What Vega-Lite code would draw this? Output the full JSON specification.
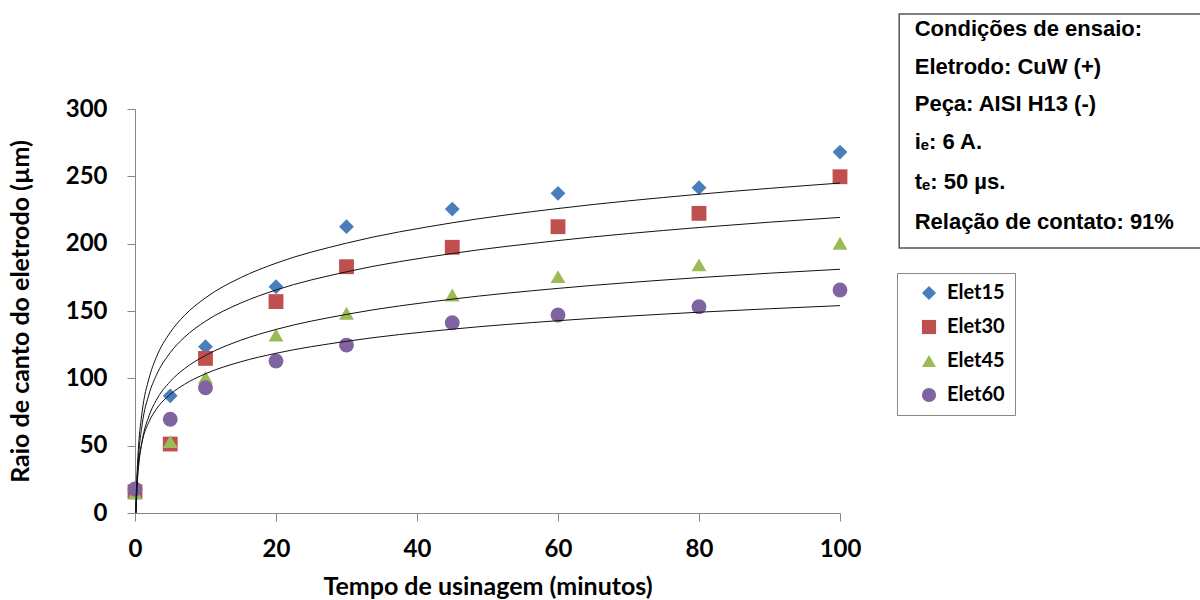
{
  "$schema": "https://vega.github.io/schema/vega-lite/v6.json",
  "width": 705,
  "height": 404,
  "autosize": {"type": "none"},
  "padding": {"left": 135, "top": 109, "right": 360, "bottom": 87},
  "background": "white",
  "config": {
    "view": {"stroke": null},
    "axis": {
      "grid": false,
      "domainColor": "#868686",
      "tickColor": "#868686",
      "tickSize": 8,
      "labelFont": "Lato",
      "labelFontWeight": "bold",
      "labelFontSize": 24,
      "labelColor": "black",
      "titleFont": "Lato",
      "titleFontWeight": "bold",
      "titleFontSize": 25,
      "titleColor": "black",
      "labelFlush": false,
      "labelOverlap": false
    }
  },
  "datasets": {
    "pts": [
      {"series": "Elet15", "t": 0, "r": 16},
      {"series": "Elet15", "t": 5, "r": 87},
      {"series": "Elet15", "t": 10, "r": 123.5},
      {"series": "Elet15", "t": 20, "r": 168},
      {"series": "Elet15", "t": 30, "r": 212.6},
      {"series": "Elet15", "t": 45, "r": 225.7},
      {"series": "Elet15", "t": 60, "r": 237.4},
      {"series": "Elet15", "t": 80, "r": 241.6},
      {"series": "Elet15", "t": 100, "r": 268},
      {"series": "Elet30", "t": 0, "r": 15.8},
      {"series": "Elet30", "t": 5, "r": 51.2},
      {"series": "Elet30", "t": 10, "r": 114.8},
      {"series": "Elet30", "t": 20, "r": 157},
      {"series": "Elet30", "t": 30, "r": 182.9},
      {"series": "Elet30", "t": 45, "r": 197.3},
      {"series": "Elet30", "t": 60, "r": 212.6},
      {"series": "Elet30", "t": 80, "r": 222.5},
      {"series": "Elet30", "t": 100, "r": 249.7},
      {"series": "Elet45", "t": 0, "r": 14.8},
      {"series": "Elet45", "t": 5, "r": 53},
      {"series": "Elet45", "t": 10, "r": 100.7},
      {"series": "Elet45", "t": 20, "r": 132.2},
      {"series": "Elet45", "t": 30, "r": 148.3},
      {"series": "Elet45", "t": 45, "r": 161.9},
      {"series": "Elet45", "t": 60, "r": 175.5},
      {"series": "Elet45", "t": 80, "r": 184.2},
      {"series": "Elet45", "t": 100, "r": 200.3},
      {"series": "Elet60", "t": 0, "r": 17.8},
      {"series": "Elet60", "t": 5, "r": 69.6},
      {"series": "Elet60", "t": 10, "r": 93},
      {"series": "Elet60", "t": 20, "r": 112.9},
      {"series": "Elet60", "t": 30, "r": 124.7},
      {"series": "Elet60", "t": 45, "r": 141.3},
      {"series": "Elet60", "t": 60, "r": 147},
      {"series": "Elet60", "t": 80, "r": 153.2},
      {"series": "Elet60", "t": 100, "r": 165.6}
    ],
    "fit": [
      {"curve": "Elet15", "t": 0.13, "r": 0},
      {"curve": "Elet15", "t": 0.15, "r": 4.4},
      {"curve": "Elet15", "t": 0.3, "r": 30.1},
      {"curve": "Elet15", "t": 0.5, "r": 49},
      {"curve": "Elet15", "t": 1, "r": 74.6},
      {"curve": "Elet15", "t": 2, "r": 100.2},
      {"curve": "Elet15", "t": 3, "r": 115.3},
      {"curve": "Elet15", "t": 5, "r": 134.1},
      {"curve": "Elet15", "t": 7, "r": 146.6},
      {"curve": "Elet15", "t": 10, "r": 159.8},
      {"curve": "Elet15", "t": 15, "r": 174.8},
      {"curve": "Elet15", "t": 20, "r": 185.5},
      {"curve": "Elet15", "t": 30, "r": 200.4},
      {"curve": "Elet15", "t": 45, "r": 215.5},
      {"curve": "Elet15", "t": 60, "r": 226.1},
      {"curve": "Elet15", "t": 80, "r": 236.7},
      {"curve": "Elet15", "t": 100, "r": 245},
      {"curve": "Elet30", "t": 0.14, "r": 0},
      {"curve": "Elet30", "t": 0.15, "r": 1.7},
      {"curve": "Elet30", "t": 0.3, "r": 24.9},
      {"curve": "Elet30", "t": 0.5, "r": 42},
      {"curve": "Elet30", "t": 1, "r": 65.2},
      {"curve": "Elet30", "t": 2, "r": 88.4},
      {"curve": "Elet30", "t": 3, "r": 102},
      {"curve": "Elet30", "t": 5, "r": 119.1},
      {"curve": "Elet30", "t": 7, "r": 130.4},
      {"curve": "Elet30", "t": 10, "r": 142.4},
      {"curve": "Elet30", "t": 15, "r": 155.9},
      {"curve": "Elet30", "t": 20, "r": 165.6},
      {"curve": "Elet30", "t": 30, "r": 179.1},
      {"curve": "Elet30", "t": 45, "r": 192.7},
      {"curve": "Elet30", "t": 60, "r": 202.3},
      {"curve": "Elet30", "t": 80, "r": 212},
      {"curve": "Elet30", "t": 100, "r": 219.5},
      {"curve": "Elet45", "t": 0.15, "r": 0.3},
      {"curve": "Elet45", "t": 0.3, "r": 19.5},
      {"curve": "Elet45", "t": 0.5, "r": 33.7},
      {"curve": "Elet45", "t": 1, "r": 53},
      {"curve": "Elet45", "t": 2, "r": 72.3},
      {"curve": "Elet45", "t": 3, "r": 83.6},
      {"curve": "Elet45", "t": 5, "r": 97.7},
      {"curve": "Elet45", "t": 7, "r": 107.1},
      {"curve": "Elet45", "t": 10, "r": 117},
      {"curve": "Elet45", "t": 15, "r": 128.3},
      {"curve": "Elet45", "t": 20, "r": 136.3},
      {"curve": "Elet45", "t": 30, "r": 147.5},
      {"curve": "Elet45", "t": 45, "r": 158.8},
      {"curve": "Elet45", "t": 60, "r": 166.8},
      {"curve": "Elet45", "t": 80, "r": 174.8},
      {"curve": "Elet45", "t": 100, "r": 181},
      {"curve": "Elet60", "t": 0.09, "r": 0},
      {"curve": "Elet60", "t": 0.15, "r": 11},
      {"curve": "Elet60", "t": 0.3, "r": 26.2},
      {"curve": "Elet60", "t": 0.5, "r": 37.5},
      {"curve": "Elet60", "t": 1, "r": 52.7},
      {"curve": "Elet60", "t": 2, "r": 67.9},
      {"curve": "Elet60", "t": 3, "r": 76.9},
      {"curve": "Elet60", "t": 5, "r": 88.1},
      {"curve": "Elet60", "t": 7, "r": 95.5},
      {"curve": "Elet60", "t": 10, "r": 103.4},
      {"curve": "Elet60", "t": 15, "r": 112.3},
      {"curve": "Elet60", "t": 20, "r": 118.6},
      {"curve": "Elet60", "t": 30, "r": 127.5},
      {"curve": "Elet60", "t": 45, "r": 136.5},
      {"curve": "Elet60", "t": 60, "r": 142.8},
      {"curve": "Elet60", "t": 80, "r": 149.1},
      {"curve": "Elet60", "t": 100, "r": 154}
    ],
    "info": [
      {"linha": "Condições de ensaio:"}
    ]
  },
  "layer": [
    {
      "data": {"name": "pts"},
      "mark": {"type": "point", "filled": true, "opacity": 1, "size": 220, "strokeWidth": 0},
      "encoding": {
        "x": {
          "field": "t", "type": "quantitative",
          "scale": {"domain": [0, 100], "nice": false, "zero": true},
          "axis": {"values": [0, 20, 40, 60, 80, 100], "title": "Tempo de usinagem (minutos)", "labelPadding": 16, "titlePadding": 13}
        },
        "y": {
          "field": "r", "type": "quantitative",
          "scale": {"domain": [0, 300], "nice": false},
          "axis": {"values": [0, 50, 100, 150, 200, 250, 300], "title": "Raio de canto do eletrodo (µm)", "labelPadding": 20, "titlePadding": 32}
        },
        "color": {
          "field": "series", "type": "nominal",
          "scale": {"domain": ["Elet15", "Elet30", "Elet45", "Elet60"], "range": ["#4A7EBB", "#C0504D", "#9BBB59", "#8064A2"]},
          "legend": {
            "title": null,
            "orient": "none",
            "legendX": 762,
            "legendY": 164,
            "strokeColor": "#888888",
            "padding": 10,
            "symbolOffset": 12,
            "symbolSize": 200,
            "symbolStrokeWidth": 0,
            "labelFont": "Lato",
            "labelFontWeight": "bold",
            "labelFontSize": 20,
            "labelColor": "black",
            "labelOffset": 8,
            "rowPadding": 14
          }
        },
        "shape": {
          "field": "series", "type": "nominal",
          "scale": {"domain": ["Elet15", "Elet30", "Elet45", "Elet60"], "range": ["diamond", "square", "triangle-up", "circle"]}
        }
      }
    },
    {
      "data": {"name": "fit"},
      "mark": {"type": "line", "color": "#111111", "strokeWidth": 1, "interpolate": "monotone"},
      "encoding": {
        "x": {"field": "t", "type": "quantitative"},
        "y": {"field": "r", "type": "quantitative"},
        "detail": {"field": "curve", "type": "nominal"},
        "order": {"field": "t", "type": "quantitative"}
      }
    },
    {
      "data": {"name": "info"},
      "mark": {"type": "rect", "fill": "white", "stroke": "#555555", "strokeWidth": 1.5},
      "encoding": {
        "x": {"datum": 108.4, "type": "quantitative"},
        "x2": {"datum": 152},
        "y": {"datum": 370.5, "type": "quantitative"},
        "y2": {"datum": 196.8}
      }
    },
    {
      "data": {"name": "info"},
      "mark": {"type": "text", "text": "Condições de ensaio:", "align": "left", "baseline": "middle", "font": "Liberation Sans", "fontWeight": "bold", "fontSize": 22, "color": "black"},
      "encoding": {"x": {"datum": 110.6, "type": "quantitative"}, "y": {"datum": 359.4, "type": "quantitative"}}
    },
    {
      "data": {"name": "info"},
      "mark": {"type": "text", "text": "Eletrodo: CuW (+)", "align": "left", "baseline": "middle", "font": "Liberation Sans", "fontWeight": "bold", "fontSize": 22, "color": "black"},
      "encoding": {"x": {"datum": 110.6, "type": "quantitative"}, "y": {"datum": 331.2, "type": "quantitative"}}
    },
    {
      "data": {"name": "info"},
      "mark": {"type": "text", "text": "Peça: AISI H13 (-)", "align": "left", "baseline": "middle", "font": "Liberation Sans", "fontWeight": "bold", "fontSize": 22, "color": "black"},
      "encoding": {"x": {"datum": 110.6, "type": "quantitative"}, "y": {"datum": 303.7, "type": "quantitative"}}
    },
    {
      "data": {"name": "info"},
      "mark": {"type": "text", "text": "iₑ: 6 A.", "align": "left", "baseline": "middle", "font": "Liberation Sans", "fontWeight": "bold", "fontSize": 22, "color": "black"},
      "encoding": {"x": {"datum": 110.6, "type": "quantitative"}, "y": {"datum": 275.5, "type": "quantitative"}}
    },
    {
      "data": {"name": "info"},
      "mark": {"type": "text", "text": "tₑ: 50 µs.", "align": "left", "baseline": "middle", "font": "Liberation Sans", "fontWeight": "bold", "fontSize": 22, "color": "black"},
      "encoding": {"x": {"datum": 110.6, "type": "quantitative"}, "y": {"datum": 245.8, "type": "quantitative"}}
    },
    {
      "data": {"name": "info"},
      "mark": {"type": "text", "text": "Relação de contato: 91%", "align": "left", "baseline": "middle", "font": "Liberation Sans", "fontWeight": "bold", "fontSize": 22, "color": "black"},
      "encoding": {"x": {"datum": 110.6, "type": "quantitative"}, "y": {"datum": 216.1, "type": "quantitative"}}
    }
  ]
}
